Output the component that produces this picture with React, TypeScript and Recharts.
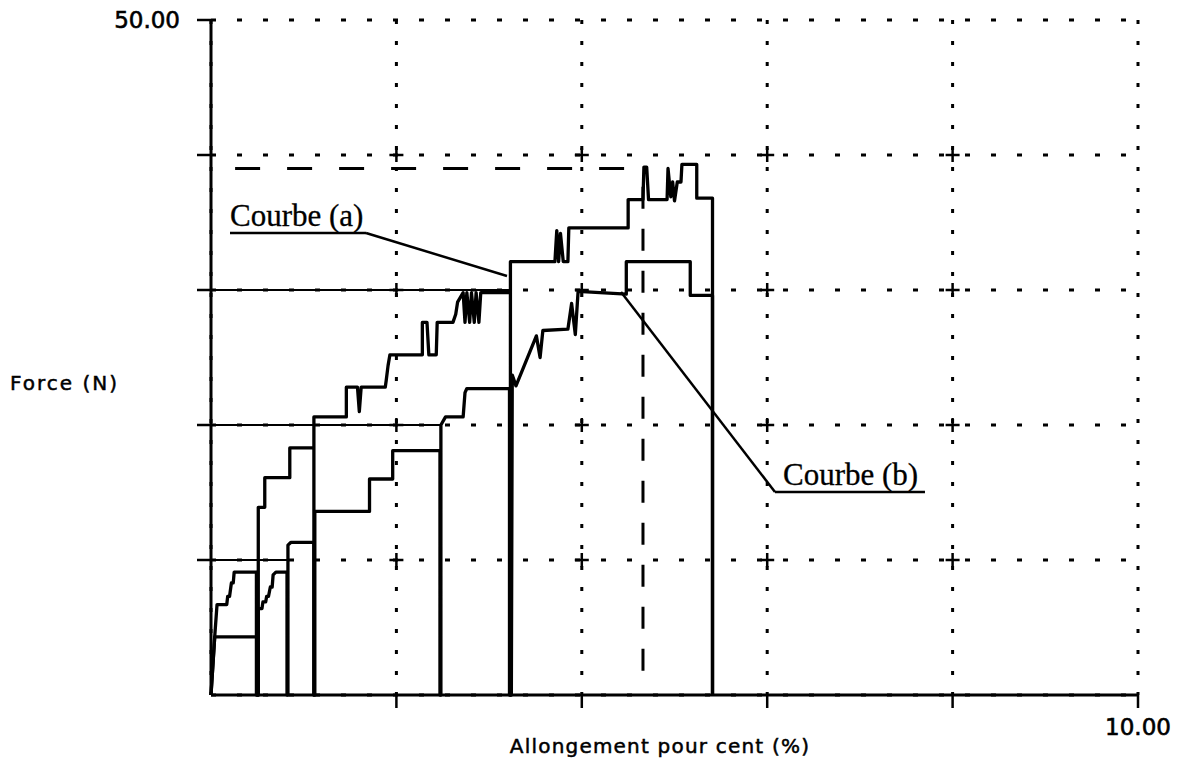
import React from "react";
import {
  ComposedChart,
  Line,
  XAxis,
  YAxis,
  CartesianGrid,
  ReferenceLine,
  ReferenceDot,
  Label,
} from "recharts";

// ---- axes ----
const xTicks = [0, 2, 4, 6, 8, 10];
const xTickText = ["", "", "", "", "", "10.00"];
const yTicks = [0, 10, 20, 30, 40, 50];
const yTickText = ["", "", "", "", "", "50.00"];
const xTitle = "Allongement pour cent (%)";
const yTitle = "Force (N)";

// ---- curve (a) : [elongation %, force N] ----
const curveA: [number, number][] = [
  [0, 0], [0.04, 4.3], [0.065, 6.7], [0.17, 6.7], [0.18, 7.3], [0.2, 7.3], [0.22, 8.3], [0.24, 8.3], [0.25, 9.1], [0.49, 9.1], [0.49, 0],
  [0.51, 0], [0.51, 13.9], [0.58, 13.9], [0.58, 16.1], [0.85, 16.1], [0.85, 18.3], [1.11, 18.3], [1.11, 0],
  [1.11, 20.6], [1.46, 20.6], [1.46, 22.8], [1.58, 22.8], [1.6, 21.0], [1.62, 22.8], [1.88, 22.8], [1.89, 23.3], [1.91, 24.4], [1.93, 25.2],
  [2.28, 25.2], [2.28, 27.6], [2.33, 27.6], [2.35, 25.2], [2.43, 25.2], [2.44, 27.6], [2.61, 27.6], [2.64, 28.2], [2.66, 29.1], [2.72, 29.8],
  [2.74, 27.6], [2.76, 29.8], [2.79, 27.6], [2.81, 29.8], [2.84, 27.6], [2.86, 29.8], [2.89, 27.6], [2.91, 29.8], [3.23, 29.8], [3.23, 0],
  [3.23, 32.1], [3.71, 32.1], [3.73, 34.4], [3.75, 32.1], [3.77, 34.2], [3.8, 32.1], [3.85, 32.1], [3.86, 34.6], [4.5, 34.6], [4.5, 36.7],
  [4.66, 36.7], [4.67, 39.1], [4.7, 39.1], [4.72, 36.7], [4.92, 36.7], [4.93, 39.0], [4.96, 36.9], [4.98, 38.0], [5.0, 36.6], [5.03, 38.0],
  [5.07, 38.0], [5.08, 39.3], [5.24, 39.3], [5.24, 36.8], [5.41, 36.8], [5.41, 0],
];

// ---- curve (b) ----
const curveB: [number, number][] = [
  [0, 0], [0.04, 4.3], [0.5, 4.3], [0.5, 0],
  [0.51, 0], [0.51, 6.4], [0.55, 6.4], [0.56, 6.9], [0.59, 6.9], [0.6, 7.3], [0.62, 7.3], [0.64, 8.0], [0.66, 8.0], [0.67, 8.9], [0.7, 9.1], [0.82, 9.1], [0.82, 0],
  [0.83, 0], [0.83, 11.1], [0.86, 11.3], [1.11, 11.3], [1.11, 0],
  [1.12, 0], [1.12, 13.6], [1.71, 13.6], [1.71, 16.0], [1.96, 16.0], [1.96, 18.1], [2.47, 18.1], [2.47, 0],
  [2.48, 0], [2.48, 20.0], [2.53, 20.6], [2.72, 20.6], [2.74, 22.4], [2.76, 22.7], [3.22, 22.7], [3.22, 0],
  [3.24, 0], [3.25, 23.7], [3.29, 22.9], [3.51, 26.6], [3.55, 25.0], [3.58, 27.0], [3.85, 27.1], [3.89, 29.0], [3.93, 26.7], [3.96, 29.9],
  [4.48, 29.7], [4.48, 32.1], [5.17, 32.1], [5.17, 29.6], [5.41, 29.6], [5.41, 0],
];

// ---- solid force levels from the axis ----
const refLevels = [10, 20, 30];
const refEnds = [0.83, 2.48, 3.23];

// ---- long-dash markers ----
const dashLevel = 39;
const dashFrom = 0.26;
const dashTo = 4.66;
const dashX = 4.66;
const dashYFrom = 1.8;
const dashYTo = 38.4;

// ---- annotations ----
const annText = ["Courbe (a)", "Courbe (b)"];
const annTextAt: [number, number][] = [[0.205, 34.74], [6.17, 15.56]];
const annUnder: [number, number, number][] = [[0.205, 1.672, 34.22], [6.084, 7.702, 15.04]];
const annLeaderFrom: [number, number][] = [[1.672, 34.22], [6.084, 15.04]];
const annLeaderTo: [number, number][] = [[3.193, 31.04], [4.423, 29.85]];

// ---- grid crossings ----
const crossX = [2, 4, 6, 8];
const crossY = [10, 20, 30, 40];

const toPts = (arr: [number, number][]) => arr.map(([x, y]) => ({ x, y }));
const dataA = toPts(curveA);
const dataB = toPts(curveB);

const crosses: { x: number; y: number }[] = [];
crossX.forEach((x) => crossY.forEach((y) => crosses.push({ x, y })));

const FONT = "DejaVu Sans, Verdana, sans-serif";

const XTick = (props: any) => {
  const { x, y, payload } = props;
  const v = payload.value;
  const i = xTicks.indexOf(v);
  return (
    <g>
      {v > 0 && <line x1={x} x2={x} y1={y - 23} y2={y - 10} stroke="#000" strokeWidth={2.5} />}
      {xTickText[i] && (
        <text x={x} y={y} dy="0.72em" textAnchor="middle" fontFamily={FONT} fontSize={23} fill="#000" stroke="#000" strokeWidth={0.6}>
          {xTickText[i]}
        </text>
      )}
    </g>
  );
};

const YTick = (props: any) => {
  const { x, y, payload } = props;
  const v = payload.value;
  const i = yTicks.indexOf(v);
  return (
    <g>
      {v > 0 && <line x1={x + 17} x2={x + 31} y1={y} y2={y} stroke="#000" strokeWidth={2.5} />}
      {yTickText[i] && (
        <text x={x} y={y} dy="0.36em" textAnchor="end" fontFamily={FONT} fontSize={23} fill="#000" stroke="#000" strokeWidth={0.6}>
          {yTickText[i]}
        </text>
      )}
    </g>
  );
};

export default function App() {
  return (
    <div style={{ position: "absolute", left: 8, top: 8, width: 1172, height: 753, background: "#fff" }}>
      <ComposedChart width={1172} height={753} margin={{ top: 12, right: 42, bottom: 26, left: 143 }}>
        <CartesianGrid vertical={false} stroke="#000" strokeWidth={3} strokeDasharray="5 21" />
        <CartesianGrid horizontal={false} stroke="#000" strokeWidth={3} strokeDasharray="4 17" />
        <XAxis
          type="number"
          dataKey="x"
          domain={[0, 10]}
          ticks={xTicks}
          interval={0}
          height={40}
          axisLine={{ stroke: "#000", strokeWidth: 3 }}
          tickLine={false}
          tickSize={13}
          tickMargin={10}
          tick={<XTick />}
        >
          <Label
            content={() => (
              <text x={652} y={745} textAnchor="middle" fontFamily={FONT} fontSize={20} letterSpacing={1.2} fill="#000" stroke="#000" strokeWidth={0.5}>
                {xTitle}
              </text>
            )}
          />
        </XAxis>
        <YAxis
          type="number"
          domain={[0, 50]}
          ticks={yTicks}
          interval={0}
          width={60}
          axisLine={{ stroke: "#000", strokeWidth: 3 }}
          tickLine={false}
          tickSize={14}
          tickMargin={17}
          tick={<YTick />}
        >
          <Label
            content={() => (
              <text x={2} y={382} textAnchor="start" fontFamily={FONT} fontSize={20} letterSpacing={2} fill="#000" stroke="#000" strokeWidth={0.5}>
                {yTitle}
              </text>
            )}
          />
        </YAxis>

        {refLevels.map((lv, i) => (
          <ReferenceLine
            key={"lv" + i}
            segment={[{ x: 0, y: lv }, { x: refEnds[i], y: lv }]}
            stroke="#000"
            strokeWidth={2.2}
          />
        ))}

        <ReferenceLine
          segment={[{ x: dashFrom, y: dashLevel }, { x: dashTo, y: dashLevel }]}
          stroke="#000"
          strokeWidth={3}
          strokeDasharray="25 27"
        />
        <ReferenceLine
          segment={[{ x: dashX, y: dashYFrom }, { x: dashX, y: dashYTo }]}
          stroke="#000"
          strokeWidth={3}
          strokeDasharray="22 20"
        />

        <Line
          data={dataA}
          dataKey="y"
          type="linear"
          stroke="#000"
          strokeWidth={3.3}
          strokeLinejoin="round"
          dot={false}
          activeDot={false}
          isAnimationActive={false}
        />
        <Line
          data={dataB}
          dataKey="y"
          type="linear"
          stroke="#000"
          strokeWidth={3.3}
          strokeLinejoin="round"
          dot={false}
          activeDot={false}
          isAnimationActive={false}
        />

        {annText.map((t, i) => (
          <ReferenceLine
            key={"ul" + i}
            segment={[{ x: annUnder[i][0], y: annUnder[i][2] }, { x: annUnder[i][1], y: annUnder[i][2] }]}
            stroke="#000"
            strokeWidth={2.5}
          />
        ))}
        {annText.map((t, i) => (
          <ReferenceLine
            key={"ld" + i}
            segment={[
              { x: annLeaderFrom[i][0], y: annLeaderFrom[i][1] },
              { x: annLeaderTo[i][0], y: annLeaderTo[i][1] },
            ]}
            stroke="#000"
            strokeWidth={2.5}
          />
        ))}
        {annText.map((t, i) => (
          <ReferenceDot
            key={"tx" + i}
            x={annTextAt[i][0]}
            y={annTextAt[i][1]}
            r={1}
            shape={(p: any) => (
              <text x={p.cx} y={p.cy} fontFamily="Liberation Serif, Times New Roman, serif" fontSize={31} fill="#000" stroke="#000" strokeWidth={0.3}>
                {t}
              </text>
            )}
          />
        ))}

        {crosses.map((c, i) => (
          <ReferenceDot
            key={"cr" + i}
            x={c.x}
            y={c.y}
            r={1}
            shape={(p: any) => (
              <path
                d={`M${p.cx - 7},${p.cy}H${p.cx + 7}M${p.cx},${p.cy - 7}V${p.cy + 7}`}
                stroke="#000"
                strokeWidth={2.5}
                fill="none"
              />
            )}
          />
        ))}
      </ComposedChart>
    </div>
  );
}
